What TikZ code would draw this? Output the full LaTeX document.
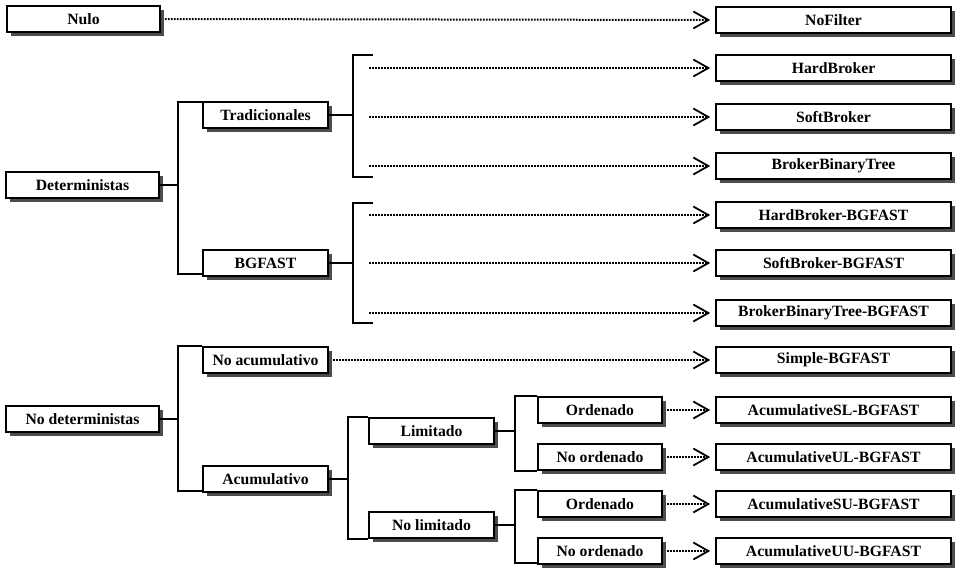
\documentclass[tikz,border=0pt]{standalone}
\usepackage{fontspec}
\setmainfont{Liberation Serif}
\usetikzlibrary{arrows.meta,shadows}

\begin{document}
\begin{tikzpicture}[x=1pt,y=-1pt,
  box/.style={draw=black, line width=1.7pt, fill=white, minimum height=26pt,
    inner sep=0pt, font=\bfseries\fontsize{15.7}{18}\selectfont,
    drop shadow={shadow xshift=3.5pt, shadow yshift=-3.5pt, fill=black!70, opacity=1}},
  rootbox/.style={box, minimum width=153pt},
  midbox/.style={box, minimum width=125pt},
  leafbox/.style={box, minimum width=235pt},
  link/.style={line width=1.7pt},
  ptr/.style={line width=2pt, dash pattern=on 1.8pt off 1.2pt, draw=black,
    -{Straight Barb[length=15pt,width=17pt,line width=1.8pt,color=black]}, shorten >=5pt},
]
\useasboundingbox (0,0) rectangle (961,573);

% first level
\node[rootbox] (nulo) at (83.5,19) {Nulo};
\node[rootbox] (det)  at (82.5,185) {Deterministas};
\node[rootbox] (ndet) at (82.5,419) {No deterministas};

% second level
\node[midbox] (trad)  at (265.5,115) {Tradicionales};
\node[midbox] (bg)    at (265.5,263) {BGFAST};
\node[midbox] (nacu)  at (265.5,360) {No acumulativo};
\node[midbox] (acu)   at (265.5,479) {Acumulativo};

% third level
\node[midbox] (lim)   at (431.5,431) {Limitado};
\node[midbox] (nlim)  at (431.5,525) {No limitado};

% fourth level
\node[midbox, minimum width=124pt] (ordA)  at (600,410) {Ordenado};
\node[midbox, minimum width=124pt] (nordA) at (600,457) {No ordenado};
\node[midbox, minimum width=124pt] (ordB)  at (600,504) {Ordenado};
\node[midbox, minimum width=124pt] (nordB) at (600,551) {No ordenado};

% filters
\node[leafbox] (nof)   at (833.5,20)  {NoFilter};
\node[leafbox] (hb)    at (833.5,68)  {HardBroker};
\node[leafbox] (sb)    at (833.5,117) {SoftBroker};
\node[leafbox] (bbt)   at (833.5,166) {BrokerBinaryTree};
\node[leafbox] (hbg)   at (833.5,215) {HardBroker-BGFAST};
\node[leafbox] (sbg)   at (833.5,263) {SoftBroker-BGFAST};
\node[leafbox] (bbtg)  at (833.5,313) {BrokerBinaryTree-BGFAST};
\node[leafbox] (sim)   at (833.5,360) {Simple-BGFAST};
\node[leafbox] (asl)   at (833.5,410) {AcumulativeSL-BGFAST};
\node[leafbox] (aul)   at (833.5,457) {AcumulativeUL-BGFAST};
\node[leafbox] (asu)   at (833.5,504) {AcumulativeSU-BGFAST};
\node[leafbox] (auu)   at (833.5,551) {AcumulativeUU-BGFAST};

% bracket spines
\coordinate (sDet)  at (178,0);
\coordinate (sNdet) at (178,0);
\coordinate (sAcu)  at (348,0);
\coordinate (sLim)  at (515,0);

% Deterministas -> Tradicionales / BGFAST
\draw[link] ([yshift=-1pt]trad.north west) -- ([yshift=-1pt]trad.north west -| sDet)
  -- ([yshift=3pt]bg.south west -| sDet) -- ([yshift=3pt]bg.south west);
\draw[link] (det.east) -- (det.east -| sDet);

% No deterministas -> No acumulativo / Acumulativo
\draw[link] (nacu.north west) -- (nacu.north west -| sNdet)
  -- ([yshift=2pt]acu.south west -| sNdet) -- ([yshift=2pt]acu.south west);
\draw[link] (ndet.east) -- (ndet.east -| sNdet);

% Acumulativo -> Limitado / No limitado
\draw[link] (lim.north west) -- (lim.north west -| sAcu)
  -- (nlim.south west -| sAcu) -- (nlim.south west);
\draw[link] (acu.east) -- (acu.east -| sAcu);

% Limitado -> Ordenado / No ordenado
\draw[link] (ordA.north west) -- (ordA.north west -| sLim)
  -- (nordA.south west -| sLim) -- (nordA.south west);
\draw[link] (lim.east) -- (lim.east -| sLim);

% No limitado -> Ordenado / No ordenado
\draw[link] (ordB.north west) -- (ordB.north west -| sLim)
  -- ([yshift=2pt]nordB.south west -| sLim) -- ([yshift=2pt]nordB.south west);
\draw[link] (nlim.east) -- (nlim.east -| sLim);

% open brackets to the right of Tradicionales and BGFAST
\coordinate (tTop) at (373,55);
\coordinate (tBot) at (373,177);
\coordinate (bTop) at (373,203);
\coordinate (bBot) at (373,323);
\coordinate (sR)   at (353,0);
\draw[link] (tTop) -- (tTop -| sR) -- (tBot -| sR) -- (tBot);
\draw[link] (trad.east) -- (trad.east -| sR);
\draw[link] (bTop) -- (bTop -| sR) -- (bBot -| sR) -- (bBot);
\draw[link] (bg.east) -- (bg.east -| sR);

% dotted pointers to the filters
\coordinate (pStart) at (369,0);
\draw[ptr] ([xshift=4pt]nulo.east) -- (nof.west);
\draw[ptr] (hb.west -| pStart) -- (hb.west);
\draw[ptr] (sb.west -| pStart) -- (sb.west);
\draw[ptr] (bbt.west -| pStart) -- (bbt.west);
\draw[ptr] (hbg.west -| pStart) -- (hbg.west);
\draw[ptr] (sbg.west -| pStart) -- (sbg.west);
\draw[ptr] (bbtg.west -| pStart) -- (bbtg.west);
\draw[ptr] ([xshift=4pt]nacu.east) -- (sim.west);
\draw[ptr] ([xshift=4pt]ordA.east) -- (asl.west);
\draw[ptr] ([xshift=4pt]nordA.east) -- (aul.west);
\draw[ptr] ([xshift=4pt]ordB.east) -- (asu.west);
\draw[ptr] ([xshift=4pt]nordB.east) -- (auu.west);
\end{tikzpicture}
\end{document}
